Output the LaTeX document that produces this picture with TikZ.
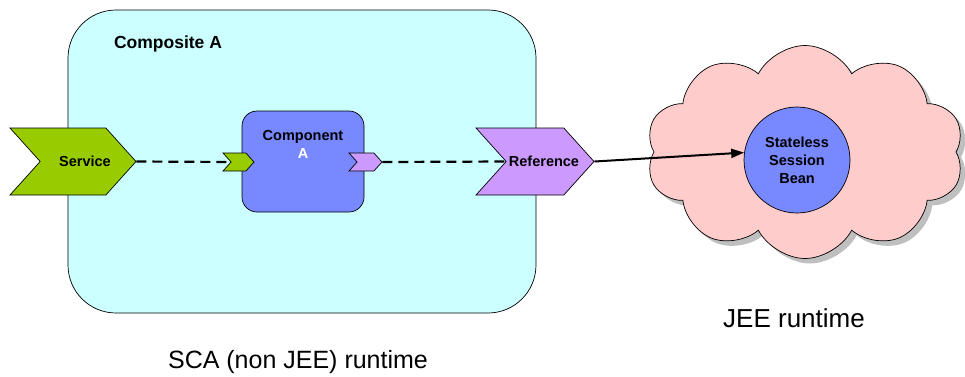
\documentclass[tikz,border=0pt]{standalone}
\usepackage{fontspec}
\setmainfont{Liberation Sans}
\usepackage{xcolor}
\usepackage{tikz}
\usetikzlibrary{positioning, shapes, arrows.meta, shadows}

\definecolor{compcyan}{HTML}{CCFFFF}
\definecolor{svcgreen}{HTML}{99CC00}
\definecolor{refpurple}{HTML}{CC99FF}
\definecolor{compblue}{HTML}{7888FF}
\definecolor{cloudpink}{HTML}{FFCCCC}

\begin{document}
\begin{tikzpicture}[x=1pt, y=-1pt,
    chev/.style={signal, signal from=west, signal to=east, signal pointer angle=96, draw, line width=0.7pt, inner sep=0pt},
    lbl/.style={font=\fontsize{14.5}{18}\selectfont\bfseries},
    wire/.style={line width=2.2pt, dash pattern=on 10pt off 6pt}]
  \useasboundingbox (0,0) rectangle (965,376);
  % composite and runtime
  \node[draw, line width=0.7pt, fill=compcyan, rounded corners=48pt, minimum width=468, minimum height=303] (comp) at (302,161.5) {};
  \node[font=\fontsize{17.5}{20}\selectfont\bfseries] (compname) at (168,44) {Composite A};
  \node[font=\fontsize{25}{28}\selectfont] (scart) at (298,362) {SCA (non JEE) runtime};
  % component with its service and reference
  \node[draw, line width=0.7pt, fill=compblue, rounded corners=15pt, minimum width=122, minimum height=101,
        label={[lbl, align=center, yshift=17.5pt]center:Component\\{\color{white}A}}] (cpt) at (303,161.5) {};
  \node[chev, fill=svcgreen, minimum width=31, minimum height=18] (cin) at (238.5,162) {};
  \node[chev, fill=refpurple, minimum width=33, minimum height=18] (cout) at (365.5,162) {};
  \node[chev, fill=svcgreen, minimum width=126, minimum height=67, label={[lbl, xshift=12pt]center:Service}] (svc) at (73,161.5) {};
  \node[chev, fill=refpurple, minimum width=118, minimum height=67, label={[lbl, xshift=9pt]center:Reference}] (ref) at (535,161.5) {};
  % JEE side
  \node[cloud, cloud puffs=10, cloud puff arc=125, aspect=1.5, draw, line width=0.7pt, fill=cloudpink, inner sep=0pt,
        minimum width=318, minimum height=213, drop shadow={shadow xshift=5pt, shadow yshift=-5pt, fill=gray}] (jee) at (805,152) {};
  \node[circle, draw, line width=0.7pt, fill=compblue, minimum size=106, inner sep=0pt, align=center, lbl] (ssb) at (797,160) {Stateless\\Session\\Bean};
  \node[font=\fontsize{26}{30}\selectfont] (jeert) at (794,318) {JEE runtime};
  % wires
  \draw[wire] (svc.east) -- (cin.west);
  \draw[wire] (cout.east) -- (ref.west);
  \draw[line width=2pt, -{Triangle[length=13pt, width=9pt]}] (ref.east) -- (ssb.172);
\end{tikzpicture}
\end{document}
